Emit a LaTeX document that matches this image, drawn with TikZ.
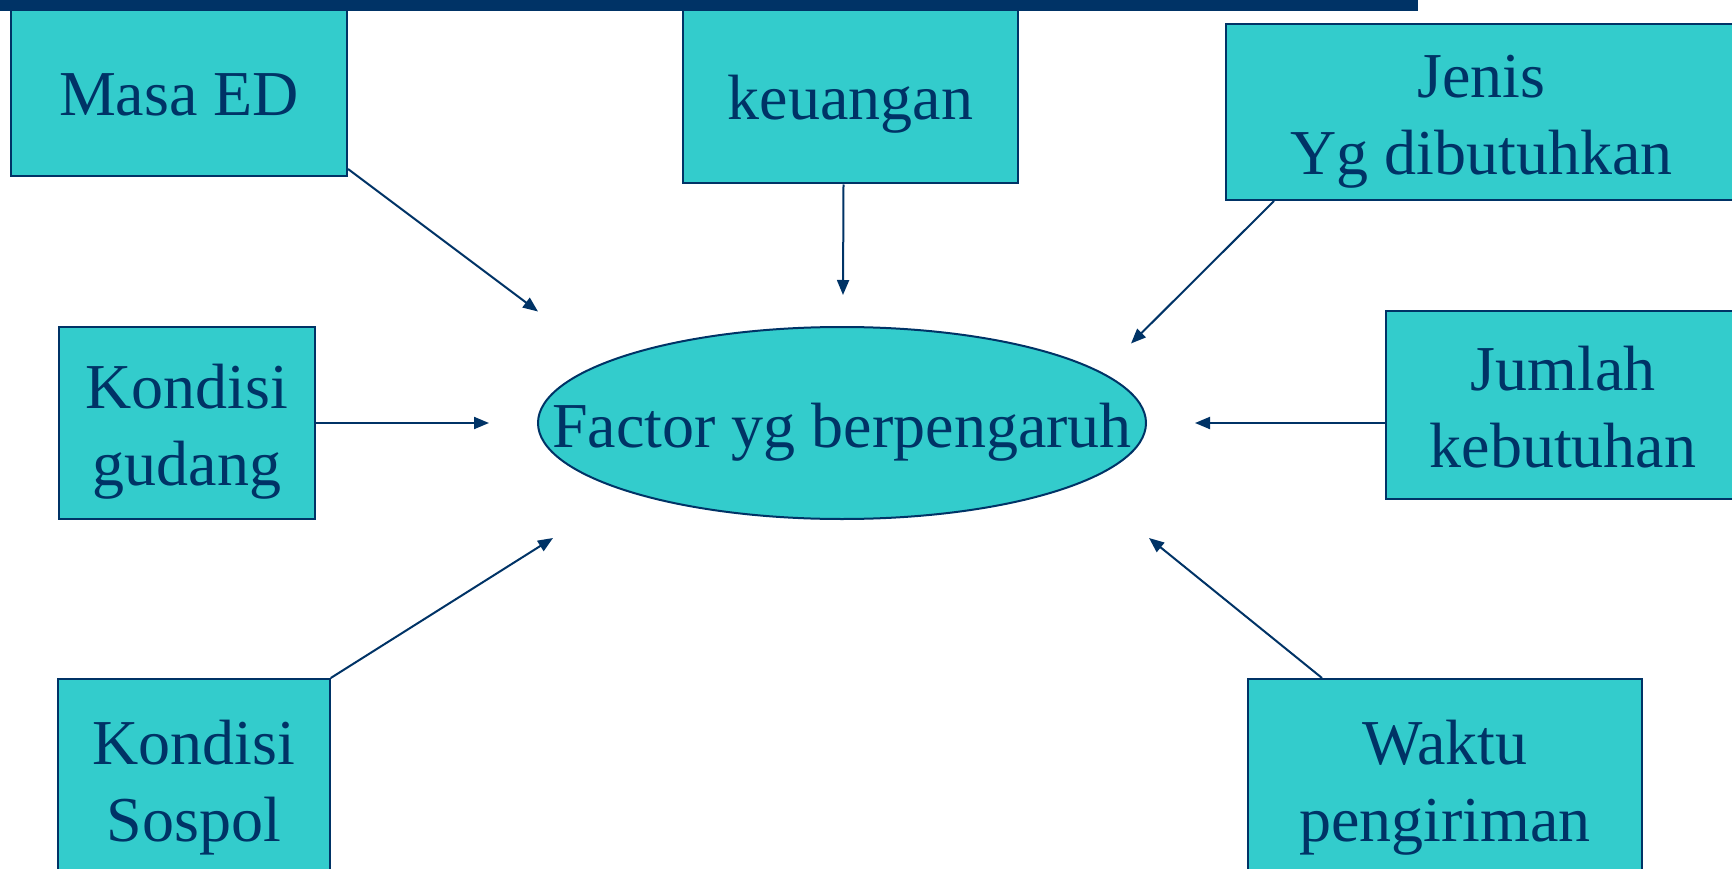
\documentclass[tikz,border=0pt]{standalone}
\usepackage{fontspec}
\setmainfont{Liberation Serif}
\usetikzlibrary{arrows.meta,shapes.geometric}
\definecolor{navy}{HTML}{003366}
\definecolor{tealfill}{HTML}{33CCCC}
\newcommand{\lnstrut}{\rule[-14pt]{0pt}{76pt}}
\begin{document}
\begin{tikzpicture}[x=1pt,y=-1pt,
  box/.style={draw=navy,line width=2pt,fill=tealfill,rectangle,inner sep=0pt,
    text=navy,align=center,font=\fontsize{64}{77}\selectfont},
  oval/.style={draw=navy,line width=2pt,fill=tealfill,ellipse,inner sep=0pt,
    text=navy,font=\fontsize{64}{77}\selectfont},
  conn/.style={draw=navy,line width=2pt,-{Triangle[length=15pt,width=12pt]}}]
\useasboundingbox (0,0) rectangle (1732,869);
% boxes
\node[box,minimum width=336pt,minimum height=168pt] (masa) at (179,92) {Masa ED\lnstrut};
\node[box,minimum width=335pt,minimum height=175pt] (keu) at (850.5,96) {keuangan\lnstrut};
\node[box,minimum width=511pt,minimum height=176pt] (jenis) at (1481.5,112) {Jenis\lnstrut\\Yg dibutuhkan\lnstrut};
\node[box,minimum width=354pt,minimum height=188pt] (jumlah) at (1563,405) {Jumlah\lnstrut\\kebutuhan\lnstrut};
\node[box,minimum width=256.5pt,minimum height=192pt] (gudang) at (187,423) {Kondisi\lnstrut\\gudang\lnstrut};
\node[box,minimum width=271.5pt,minimum height=200pt] (sospol) at (194,779) {Kondisi\lnstrut\\Sospol\lnstrut};
\node[box,minimum width=394.5pt,minimum height=200pt] (waktu) at (1445,779) {Waktu\lnstrut\\pengiriman\lnstrut};
\node[oval,minimum width=608pt,minimum height=192pt] (factor) at (842,423) {\makebox[0pt]{Factor yg berpengaruh\lnstrut}};
% top bar
\fill[navy] (0,0) rectangle (1418,10.7);
% free arrow ends
\coordinate (e1) at (538,311.5);
\coordinate (e2) at (843,295);
\coordinate (e3) at (1131,343.5);
\coordinate (e4) at (489,423);
\coordinate (e5) at (1195,423);
\coordinate (e6) at (553,538);
\coordinate (e7) at (1149,538);
% connectors
\draw[conn] ([yshift=8pt]masa.south east) -- (e1);
\draw[conn] ([xshift=-7pt]keu.south) -- (e2);
\draw[conn] ([xshift=49pt]jenis.south west) -- (e3);
\draw[conn] (gudang.east) -- (e4);
\draw[conn] ([yshift=-18pt]jumlah.west) -- (e5);
\draw[conn] (sospol.north east) -- (e6);
\draw[conn] ([xshift=-123pt]waktu.north) -- (e7);
\end{tikzpicture}
\end{document}
